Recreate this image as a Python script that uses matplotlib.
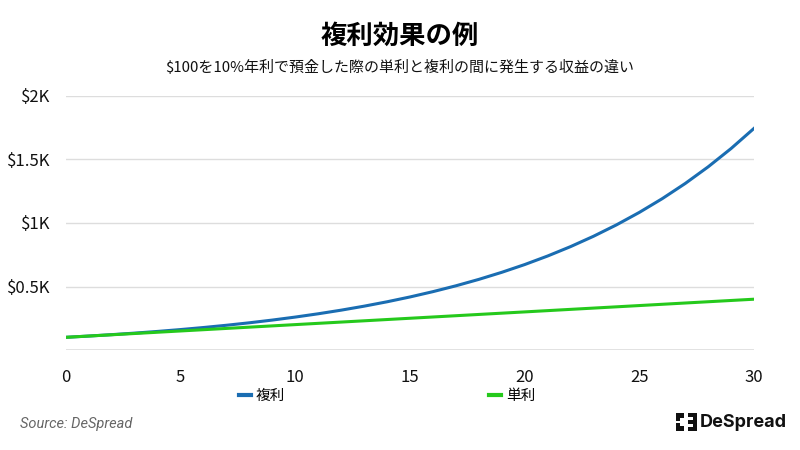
import matplotlib.pyplot as plt
from matplotlib.patches import Rectangle

plt.rcParams['font.family'] = ['Noto Sans CJK JP', 'DejaVu Sans']

# データ: $100を年利10%で預金した場合（0〜30年）
years = list(range(0, 31))
compound = [100.0, 110.0, 121.0, 133.1, 146.4, 161.1, 177.2, 194.9, 214.4, 235.8,
            259.4, 285.3, 313.8, 345.2, 379.7, 417.7, 459.5, 505.4, 556.0, 611.6,
            672.7, 740.0, 814.0, 895.4, 985.0, 1083.5, 1191.8, 1311.0, 1442.1, 1586.3,
            1744.9]
simple = [100, 110, 120, 130, 140, 150, 160, 170, 180, 190,
          200, 210, 220, 230, 240, 250, 260, 270, 280, 290,
          300, 310, 320, 330, 340, 350, 360, 370, 380, 390,
          400]
ytick_vals = [500, 1000, 1500, 2000]
ytick_labels = ['$0.5K', '$1K', '$1.5K', '$2K']
xtick_vals = [0, 5, 10, 15, 20, 25, 30]

color_compound = '#1a6db2'
color_simple = '#25c91c'

fig = plt.figure(figsize=(8, 4.5), dpi=100)
ax = fig.add_axes([0.0825, 0.2222, 0.86, 0.5645])

ax.plot(years, compound, color=color_compound, linewidth=2.2, label='複利')
ax.plot(years, simple, color=color_simple, linewidth=2.2, label='単利')

ax.set_xlim(0, 30)
ax.set_ylim(0, 2000)
ax.set_yticks(ytick_vals)
ax.set_yticklabels(ytick_labels)
ax.set_xticks(xtick_vals)
ax.grid(axis='y', color='#dddddd', linewidth=1)
ax.axhline(0, color='#dddddd', linewidth=1.2, zorder=0)
for s in ax.spines.values():
    s.set_visible(False)
ax.tick_params(axis='both', length=0, labelsize=12, colors='#111111')
ax.tick_params(axis='x', pad=14)
ax.tick_params(axis='y', pad=11)

fig.text(0.5, 0.92, '複利効果の例', ha='center', va='center', fontsize=19, fontweight='bold')
fig.text(0.5, 0.85, '$100を10%年利で預金した際の単利と複利の間に発生する収益の違い',
         ha='center', va='center', fontsize=10.8, color='#111111')

leg = fig.legend(loc='center', bbox_to_anchor=(0.484, 0.12), ncol=2, frameon=False,
                 fontsize=10.5, handlelength=0.8, handletextpad=0.35, columnspacing=14)
for line in leg.get_lines():
    line.set_linewidth(3)

fig.text(0.025, 0.058, 'Source: DeSpread', ha='left', va='center', fontsize=10.5,
         style='italic', color='#666666', family='Roboto')

# ロゴ (ピクセル単位: 左下 = (676, 431))
ox, oy = 676, 431
logo_blocks = [(0, 13, 8, 5), (0, 10, 4, 8), (0, 0, 8, 5), (0, 0, 4, 8),
               (12, 0, 9, 4), (12, 7, 9, 4), (12, 14, 9, 4), (17, 0, 4, 18)]
for (x, y, w, h) in logo_blocks:
    fig.add_artist(Rectangle(((ox + x) / 800, (450 - oy + y) / 450), w / 800, h / 450,
                             transform=fig.transFigure, color='#111111', linewidth=0))
fig.text(0.875, 0.062, 'DeSpread', ha='left', va='center', fontsize=13,
         fontweight='bold', color='#111111', family='Inter')

fig.savefig('out.png', dpi=100)
